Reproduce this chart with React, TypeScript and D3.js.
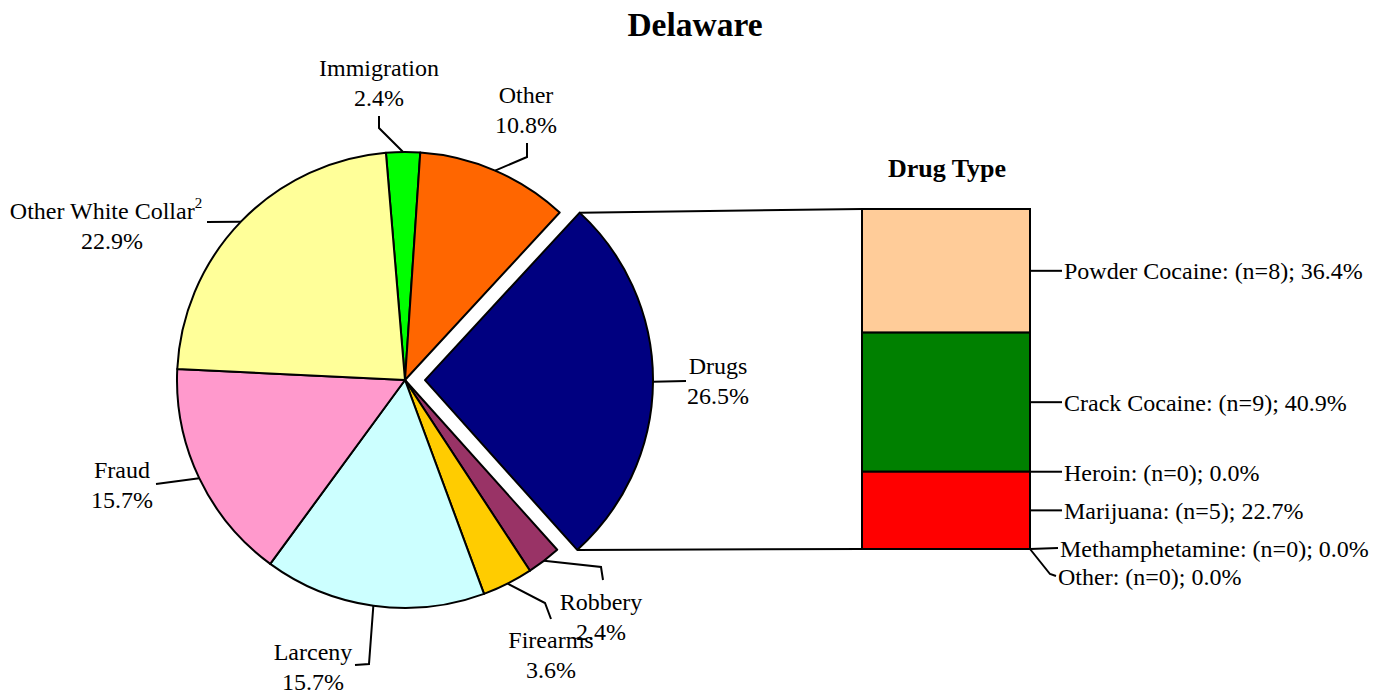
import React from 'react';
import * as d3 from 'd3';

// pie data (clockwise from the top)
const crimeNames = ['Immigration', 'Other', 'Drugs', 'Robbery', 'Firearms', 'Larceny', 'Fraud', 'Other White Collar'];
const crimePct = [2.4, 10.8, 26.5, 2.4, 3.6, 15.7, 15.7, 22.9];
const crimeColors = ['#00FF00', '#FF6600', '#000080', '#993366', '#FFCC00', '#CCFFFF', '#FF99CC', '#FFFF99'];

// drug type breakdown (top to bottom of the bar)
const drugNames = ['Powder Cocaine', 'Crack Cocaine', 'Heroin', 'Marijuana', 'Methamphetamine', 'Other'];
const drugCounts = [8, 9, 0, 5, 0, 0];
const drugColors = ['#FFCC99', '#008000', '#FF0000', '#FF0000', '#FFFFFF', '#FFFFFF'];

// label layout: text centre and leader elbow points, per pie slice
const pieLabelPos: { [k: string]: { x: number; y: number; pts: [number, number][] } } = {
  'Immigration': { x: 379, y: 68, pts: [[379, 128], [379, 116]] },
  'Other': { x: 526, y: 95, pts: [[527, 157], [527, 143]] },
  'Drugs': { x: 718, y: 366, pts: [[686, 381]] },
  'Robbery': { x: 601, y: 602, pts: [[601, 567], [603, 580]] },
  'Firearms': { x: 551, y: 640, pts: [[545, 603], [551, 619]] },
  'Larceny': { x: 313, y: 652, pts: [[369, 664], [355, 665]] },
  'Fraud': { x: 122, y: 470, pts: [[156, 484]] },
  'Other White Collar': { x: 106, y: 211, pts: [[207, 222]] },
};

const cx = 405, cy = 380, R = 228, explode = 20;
const fontFam = '"Liberation Serif", "Times New Roman", serif';
const fs = 24;

const App = () => {
  const startA = (-4.8 * Math.PI) / 180;
  const pie = d3.pie<number>().sort(null).value(d => d).startAngle(startA).endAngle(startA + 2 * Math.PI);
  const arcs = pie(crimePct);
  const arcGen = d3.arc<d3.PieArcDatum<number>>().innerRadius(0).outerRadius(R);

  const pt = (a: number, r: number): [number, number] => [Math.sin(a) * r, -Math.cos(a) * r];

  const drugsIdx = crimeNames.indexOf('Drugs');
  const dArc = arcs[drugsIdx];
  const dMid = (dArc.startAngle + dArc.endAngle) / 2;
  const [ex, ey] = pt(dMid, explode);

  // bar scale
  const total = d3.sum(drugCounts);
  const barTop = 209, barBottom = 549, barX = 862, barW = 168;
  const y = d3.scaleLinear().domain([0, total]).range([barTop, barBottom]);
  let cum = 0;
  const segs = drugCounts.map((c, i) => {
    const s = { name: drugNames[i], n: c, y0: y(cum), y1: y(cum + c), color: drugColors[i] };
    cum += c;
    return s;
  });

  const topCorner = pt(dArc.startAngle, R);
  const botCorner = pt(dArc.endAngle, R);
  const line = d3.line();

  return (
    <svg width={1384} height={690} style={{ position: 'absolute', left: 0, top: 0, fontFamily: fontFam }}>
      <rect width={1384} height={690} fill="#fff" />
      <text x={695} y={24} textAnchor="middle" dy="0.35em" fontSize={33.5} fontWeight="bold">Delaware</text>

      <g transform={`translate(${cx},${cy})`}>
        {arcs.map((a, i) => {
          const off = i === drugsIdx ? [ex, ey] : [0, 0];
          return (
            <path key={i} d={arcGen(a) || ''} transform={`translate(${off[0]},${off[1]})`}
              fill={crimeColors[i]} stroke="#000" strokeWidth={2} strokeLinejoin="round" />
          );
        })}
      </g>

      {/* pie labels */}
      {arcs.map((a, i) => {
        const name = crimeNames[i];
        const lp = pieLabelPos[name];
        const mid = (a.startAngle + a.endAngle) / 2;
        const off = i === drugsIdx ? [ex, ey] : [0, 0];
        const e = pt(mid, R);
        const start: [number, number] = [cx + e[0] + off[0], cy + e[1] + off[1]];
        return (
          <g key={name}>
            <path d={line([start, ...lp.pts]) || ''} fill="none" stroke="#000" strokeWidth={2} />
            <text x={lp.x} y={lp.y} dy="0.35em" textAnchor="middle" fontSize={fs}>
              {name}
              {name === 'Other White Collar' ? <tspan fontSize={15} dy="-0.75em">2</tspan> : null}
            </text>
            <text x={lp.x + (name === 'Other White Collar' ? 6 : 0)} y={lp.y + 30} dy="0.35em" textAnchor="middle" fontSize={fs}>
              {a.data.toFixed(1)}%
            </text>
          </g>
        );
      })}

      {/* connector lines */}
      <line x1={cx + topCorner[0] + ex} y1={cy + topCorner[1] + ey} x2={barX} y2={barTop} stroke="#000" strokeWidth={2} />
      <line x1={cx + botCorner[0] + ex} y1={cy + botCorner[1] + ey} x2={barX} y2={barBottom} stroke="#000" strokeWidth={2} />

      {/* bar */}
      <text x={947} y={168} dy="0.35em" textAnchor="middle" fontSize={26} fontWeight="bold">Drug Type</text>
      {segs.filter(s => s.n > 0).map(s => (
        <rect key={s.name} x={barX} y={s.y0} width={barW} height={s.y1 - s.y0} fill={s.color} stroke="#000" strokeWidth={2} />
      ))}
      {segs.map((s, i) => {
        const lx = barX + barW;
        let ym = (s.y0 + s.y1) / 2;
        let pts: [number, number][] = [[lx, ym], [lx + 32, ym]];
        let ty = ym;
        if (s.name === 'Heroin') { ty = ym + 1; }
        if (s.name === 'Methamphetamine') { pts = [[lx, ym], [lx + 28, ym - 1]]; ty = ym; }
        if (s.name === 'Other') { pts = [[lx, ym], [lx + 20, ym + 25], [lx + 26, ym + 27]]; ty = ym + 28; }
        const pct = total ? (s.n / total) * 100 : 0;
        return (
          <g key={s.name + i}>
            <path d={line(pts) || ''} fill="none" stroke="#000" strokeWidth={2} />
            <text x={pts[pts.length - 1][0] + 2} y={ty} dy="0.35em" fontSize={fs}>
              {`${s.name}: (n=${s.n}); ${pct.toFixed(1)}%`}
            </text>
          </g>
        );
      })}
    </svg>
  );
};

export default App;
